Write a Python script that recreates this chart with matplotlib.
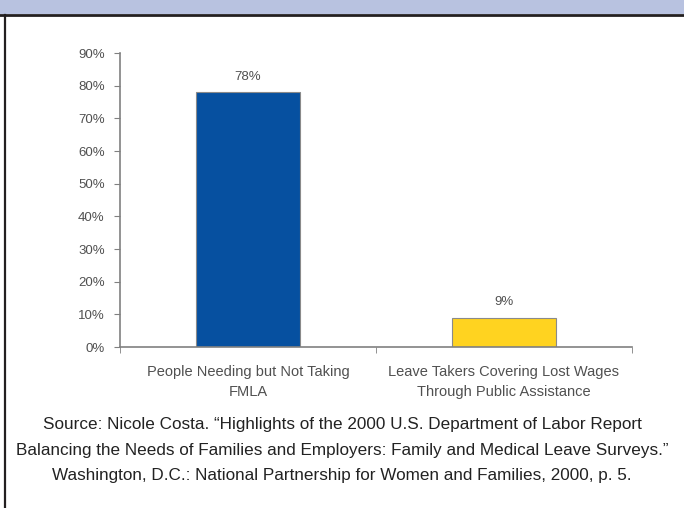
import matplotlib
matplotlib.use("Agg")
import matplotlib.pyplot as plt
from matplotlib.patches import Rectangle
from matplotlib.lines import Line2D

categories = ["People Needing but Not Taking\nFMLA",
              "Leave Takers Covering Lost Wages\nThrough Public Assistance"]
values = [78, 9]
bar_colors = ["#0650A0", "#FFD320"]
y_ticks = [0, 10, 20, 30, 40, 50, 60, 70, 80, 90]
source = ("Source: Nicole Costa. \u201cHighlights of the 2000 U.S. Department of Labor Report\n"
          "Balancing the Needs of Families and Employers: Family and Medical Leave Surveys.\u201d\n"
          "Washington, D.C.: National Partnership for Women and Families, 2000, p. 5.")

W, H = 684, 508
fig = plt.figure(figsize=(W / 100, H / 100), dpi=100)
plt.rcParams['font.family'] = ['Liberation Sans', 'DejaVu Sans']

# header band and frame
fig.patches.append(Rectangle((0, 1 - 14 / H), 1, 14 / H, transform=fig.transFigure,
                             facecolor="#B8C2E0", edgecolor="none"))
fig.lines.append(Line2D([0, 1], [1 - 14.5 / H, 1 - 14.5 / H], transform=fig.transFigure,
                        color="#231F20", lw=2))
fig.lines.append(Line2D([4.5 / W, 4.5 / W], [0, 1 - 14.5 / H], transform=fig.transFigure,
                        color="#231F20", lw=1.6))

ax = fig.add_axes([120 / W, (H - 347) / H, 512 / W, 294 / H])
x = list(range(len(values)))
bars = ax.bar(x, values, width=0.41, color=bar_colors, edgecolor="#8A8A8A", linewidth=0.8)
for xi, v in zip(x, values):
    ax.text(xi, v + 4.8, f"{v}%", ha="center", va="center", fontsize=9.5, color="#505050")

ax.set_xlim(-0.5, 1.5)
ax.set_ylim(0, 90)
ax.set_yticks(y_ticks)
ax.set_yticklabels([f"{t}%" for t in y_ticks], fontsize=9.5, color="#505050")
ax.set_xticks(x)
ax.set_xticklabels(categories, fontsize=10.5, color="#505050", linespacing=1.5)
ax.tick_params(axis="x", length=0, pad=13)
ax.set_xticks([-0.5, 0.5, 1.5], minor=True)
ax.tick_params(axis="x", which="minor", length=4, color="#808080", direction="out")
ax.tick_params(axis="y", length=4, color="#808080", direction="out", pad=7)
for s in ["top", "right"]:
    ax.spines[s].set_visible(False)
for s in ["left", "bottom"]:
    ax.spines[s].set_color("#808080")
    ax.spines[s].set_linewidth(1.2)

fig.text(342 / W, 1 - 450 / H, source, ha="center", va="center", fontsize=12.3,
         color="#222222", linespacing=1.9)

fig.savefig("out.png", dpi=100)
